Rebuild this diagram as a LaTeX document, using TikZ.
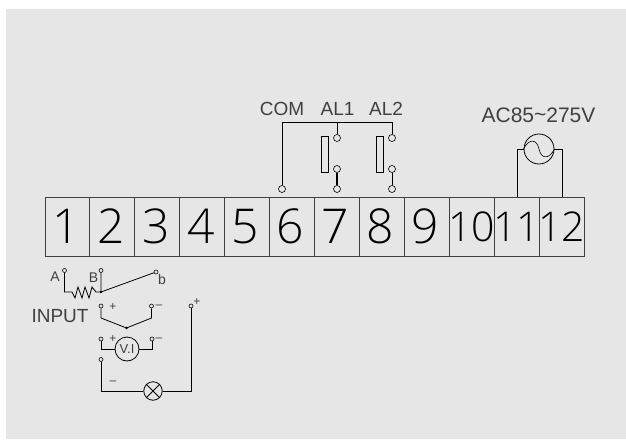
\documentclass[tikz,border=0pt]{standalone}
\usepackage{fontspec}
\setmainfont{Liberation Sans}
\newfontfamily\digitfont{Open Sans Light}
\usetikzlibrary{positioning}
\definecolor{panelgray}{HTML}{E6E6E6}
\definecolor{inkgray}{HTML}{404040}
\tikzset{
	terminal/.style = {draw=black!75, line width=1pt, minimum width=44.92pt, minimum height=59pt, inner sep=0pt, font=\digitfont\fontsize{48}{48}\selectfont, text=black},
	smallterminal/.style = {terminal, font=\digitfont\fontsize{41}{41}\selectfont},
	post/.style = {circle, draw=black, fill=panelgray, line width=0.6pt, inner sep=0pt, minimum size=7pt},
	tinypost/.style = {circle, draw=black, fill=panelgray, line width=0.6pt, inner sep=0pt, minimum size=4pt},
	wire/.style = {draw=black, line width=0.8pt},
	lbl/.style = {inner sep=0pt, text=inkgray, font=\fontsize{19}{19}\selectfont},
	smalllbl/.style = {inner sep=0pt, text=inkgray, font=\fontsize{14}{14}\selectfont},
	signlbl/.style = {inner sep=0pt, text=inkgray, font=\fontsize{12}{12}\selectfont}
}
\begin{document}
\begin{tikzpicture}[x=1pt,y=-1pt]
	\useasboundingbox (0,0) rectangle (626,439);
	\fill[white] (0,0) rectangle (626,439);
	\fill[panelgray] (6,9) rectangle (626,439);
	% terminal strip
	\foreach \n in {1,...,9}
		\node[terminal] (t\n) at ({67.46+44.92*(\n-1)},226.5) {\kern-3pt\n};
	\foreach \n in {10,11,12}
		\node[smallterminal] (t\n) at ({67.46+44.92*(\n-1)},226.5) {\makebox[0pt]{\n}};
	% alarm contacts
	\node[lbl] (com) at (282,109) {COM};
	\node[lbl] (alone) at (337.5,109) {AL1};
	\node[lbl] (altwo) at (386,109) {AL2};
	\coordinate (bus) at (282,122);
	\node[post] (comin) at (282,189) {};
	\node[post] (aonetop) at (337,138) {};
	\node[post] (aonemid) at (337,169) {};
	\node[post] (aonebot) at (337,189) {};
	\node[post] (atwotop) at (392,138) {};
	\node[post] (atwomid) at (392,169) {};
	\node[post] (atwobot) at (392,189) {};
	\draw[wire] (comin) -- (bus) -- (392,122) -- (atwotop);
	\draw[wire] (337,122) -- (aonetop);
	\draw[wire,line width=1.2pt] (aonemid) -- (aonebot);
	\draw[wire] (atwomid) -- (atwobot);
	\draw[wire] (321,136) rectangle (328,172);
	\draw[wire] (376,136) rectangle (383,172);
	% power supply
	\node[lbl,font=\fontsize{21}{21}\selectfont] (acv) at (538.5,115.5) {AC85\raisebox{1pt}{\char`~}275V};
	\node[circle, wire, minimum size=30pt, inner sep=0pt] (src) at (539,149) {};
	\draw[wire] (src.west) -- (517,149) -- (t11.north -| 517,149);
	\draw[wire] (src.east) -- (562,149) -- (t12.north -| 562,149);
	\draw[line width=0.6pt] (src.west) .. controls (529,138) and (537,139) .. (539,149) .. controls (541,159) and (549,160) .. (src.east);
	% input, thermocouple and rtd
	\node[smalllbl] (la) at (55,277) {A};
	\node[smalllbl] (lb) at (93.5,278) {B};
	\node[smalllbl] (lsb) at (162,279) {b};
	\node[lbl] (inp) at (60,316.5) {INPUT};
	\node[tinypost] (pa) at (64.5,270.5) {};
	\node[tinypost] (pb) at (101,270.5) {};
	\node[tinypost] (psb) at (156,272) {};
	\coordinate (jb) at (101,292);
	\fill (jb) circle (1.4pt);
	\draw[wire] (pa) -- (64.5,292) -- (72,292) -- (75,298) -- (78,287) -- (82,298) -- (85,287) -- (89,298) -- (92,287) -- (96,292) -- (jb);
	\draw[wire] (pb) -- (jb) -- (psb);
	% input, voltage
	\node[tinypost] (pplus) at (101,306) {};
	\node[tinypost] (pminus) at (151.5,306) {};
	\coordinate (jv) at (126.5,328);
	\fill (jv) circle (1.4pt);
	\draw[wire] (pplus) -- (101,318) -- (jv) -- (151.5,318) -- (pminus);
	\node[signlbl] (vplus) at (113,307) {+};
	\node[signlbl] (vminus) at (159,307) {--};
	% input, current and voltage
	\node[circle, wire, minimum size=24pt, inner sep=0pt, font=\fontsize{13}{13}\selectfont, text=inkgray] (vi) at (127,349) {V.I};
	\node[tinypost] (pvp) at (101,339) {};
	\node[tinypost] (pvm) at (152,339) {};
	\draw[wire] (pvp) -- (101,349) -- (vi.west);
	\draw[wire] (pvm) -- (152,349) -- (vi.east);
	\node[signlbl] (iplus) at (113,339) {+};
	\node[signlbl] (iminus) at (159,340) {--};
	% input, lamp loop
	\node[circle, wire, minimum size=18.5pt, inner sep=0pt] (lamp) at (153,391) {};
	\draw[wire] (lamp.north west) -- (lamp.south east);
	\draw[wire] (lamp.north east) -- (lamp.south west);
	\node[tinypost] (pln) at (101,359.5) {};
	\node[tinypost] (plp) at (191,306) {};
	\draw[wire] (pln) -- (101,391) -- (lamp.west);
	\draw[wire] (lamp.east) -- (191,391) -- (plp);
	\node[signlbl] (lminus) at (113,382.5) {--};
	\node[signlbl] (lplus) at (197,302) {+};
\end{tikzpicture}
\end{document}
